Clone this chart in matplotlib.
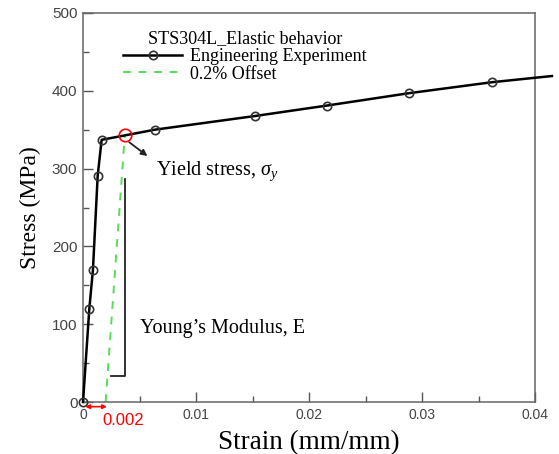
import matplotlib
matplotlib.use("Agg")
import matplotlib.pyplot as plt

# curva experimental (engenharia)
strain = [0.0, 0.00056, 0.00088, 0.0013, 0.00165, 0.00635, 0.01522, 0.02157, 0.02888, 0.03617, 0.0415]
stress = [0.0, 120, 170, 291, 337, 350, 367.6, 381, 397, 411, 419]

# linha de offset 0.2%
offset_strain = [0.002, 0.0037]
offset_stress = [0.0, 343]

# ponto de escoamento
yield_strain = 0.0037
yield_stress = 343

# colchete do modulo de Young
bracket_strain = [0.00245, 0.0037, 0.0037]
bracket_stress = [33.4, 33.4, 287]

xticks = [0, 0.01, 0.02, 0.03, 0.04]
xticklabels = ["0", "0.01", "0.02", "0.03", "0.04"]
yticks = [0, 100, 200, 300, 400, 500]

serif = "Liberation Serif"
sans = "Liberation Sans"
plt.rcParams["mathtext.fontset"] = "custom"
plt.rcParams["mathtext.it"] = "Liberation Serif:italic"
plt.rcParams["mathtext.rm"] = "Liberation Serif"

fig = plt.figure(figsize=(5.59, 4.54), dpi=100)
ax = fig.add_axes([83 / 559, 1 - 402 / 454, (535 - 83) / 559, (402 - 13) / 454])

ax.plot(strain, stress, color="black", linewidth=1.8, marker="o", markersize=6,
        markerfacecolor="none", markeredgecolor="#333333", markeredgewidth=1.2,
        markevery=list(range(len(strain) - 1)), clip_on=False, zorder=3,
        label="Engineering Experiment")
ax.plot(offset_strain, offset_stress, color="#55dd55", linestyle=(0, (4, 4)),
        linewidth=1.4, label="0.2% Offset", zorder=2)
ax.plot([yield_strain], [yield_stress], marker="o", markersize=9,
        markerfacecolor="none", markeredgecolor="red", markeredgewidth=1.2, zorder=4)
ax.plot(bracket_strain, bracket_stress, color="#222222", linewidth=1.3, zorder=2)

ax.annotate("", xy=(0.0059, 314), xytext=(0.0039, 336),
            arrowprops=dict(arrowstyle="-|>", color="#222222", lw=1.3,
                            mutation_scale=9))
ax.text(0.0065, 297, r"Yield stress, $\sigma_y$", fontsize=14.5, family=serif,
        va="center", ha="left")
ax.text(0.005, 94, "Young\u2019s Modulus, E", fontsize=14.5, family=serif,
        va="center", ha="left")

# seta vermelha 0.002
ax.annotate("", xy=(0.00212, -6), xytext=(0.0002, -6), annotation_clip=False,
            arrowprops=dict(arrowstyle="<|-|>", color="red", lw=1.2,
                            mutation_scale=6, shrinkA=0, shrinkB=0))
ax.text(0.0036, -24, "0.002", color="red", fontsize=12, family=sans,
        ha="center", va="center", clip_on=False)

ax.set_xlim(0, 0.04)
ax.set_ylim(0, 500)
ax.set_xticks(xticks)
ax.set_xticklabels(xticklabels)
ax.set_xticks([0.005, 0.015, 0.025, 0.035], minor=True)
ax.set_yticks(yticks)
ax.set_yticks([50, 150, 250, 350, 450], minor=True)
ax.tick_params(which="major", direction="in", length=7, width=1, color="#555555",
               labelsize=10, labelcolor="#444444", pad=4)
ax.tick_params(axis="y", which="major", labelsize=11)
ax.tick_params(which="minor", direction="in", length=4, width=1, color="#555555")
for lab in ax.get_xticklabels() + ax.get_yticklabels():
    lab.set_family(sans)

for s in ax.spines.values():
    s.set_color("#666666")
    s.set_linewidth(1.1)

ax.set_xlabel("Strain (mm/mm)", fontsize=19.5, family=serif, labelpad=6)
ax.set_ylabel("Stress (MPa)", fontsize=17, family=serif, labelpad=8)

leg = ax.legend(loc="upper left", bbox_to_anchor=(0.072, 0.975), frameon=False,
                title="STS304L_Elastic behavior", handlelength=3.3,
                prop={"family": serif, "size": 13}, borderaxespad=0,
                labelspacing=0.05, handletextpad=0.45)
leg.get_title().set_family(serif)
leg.get_title().set_fontsize(13)

fig.savefig("out.png", dpi=100)
